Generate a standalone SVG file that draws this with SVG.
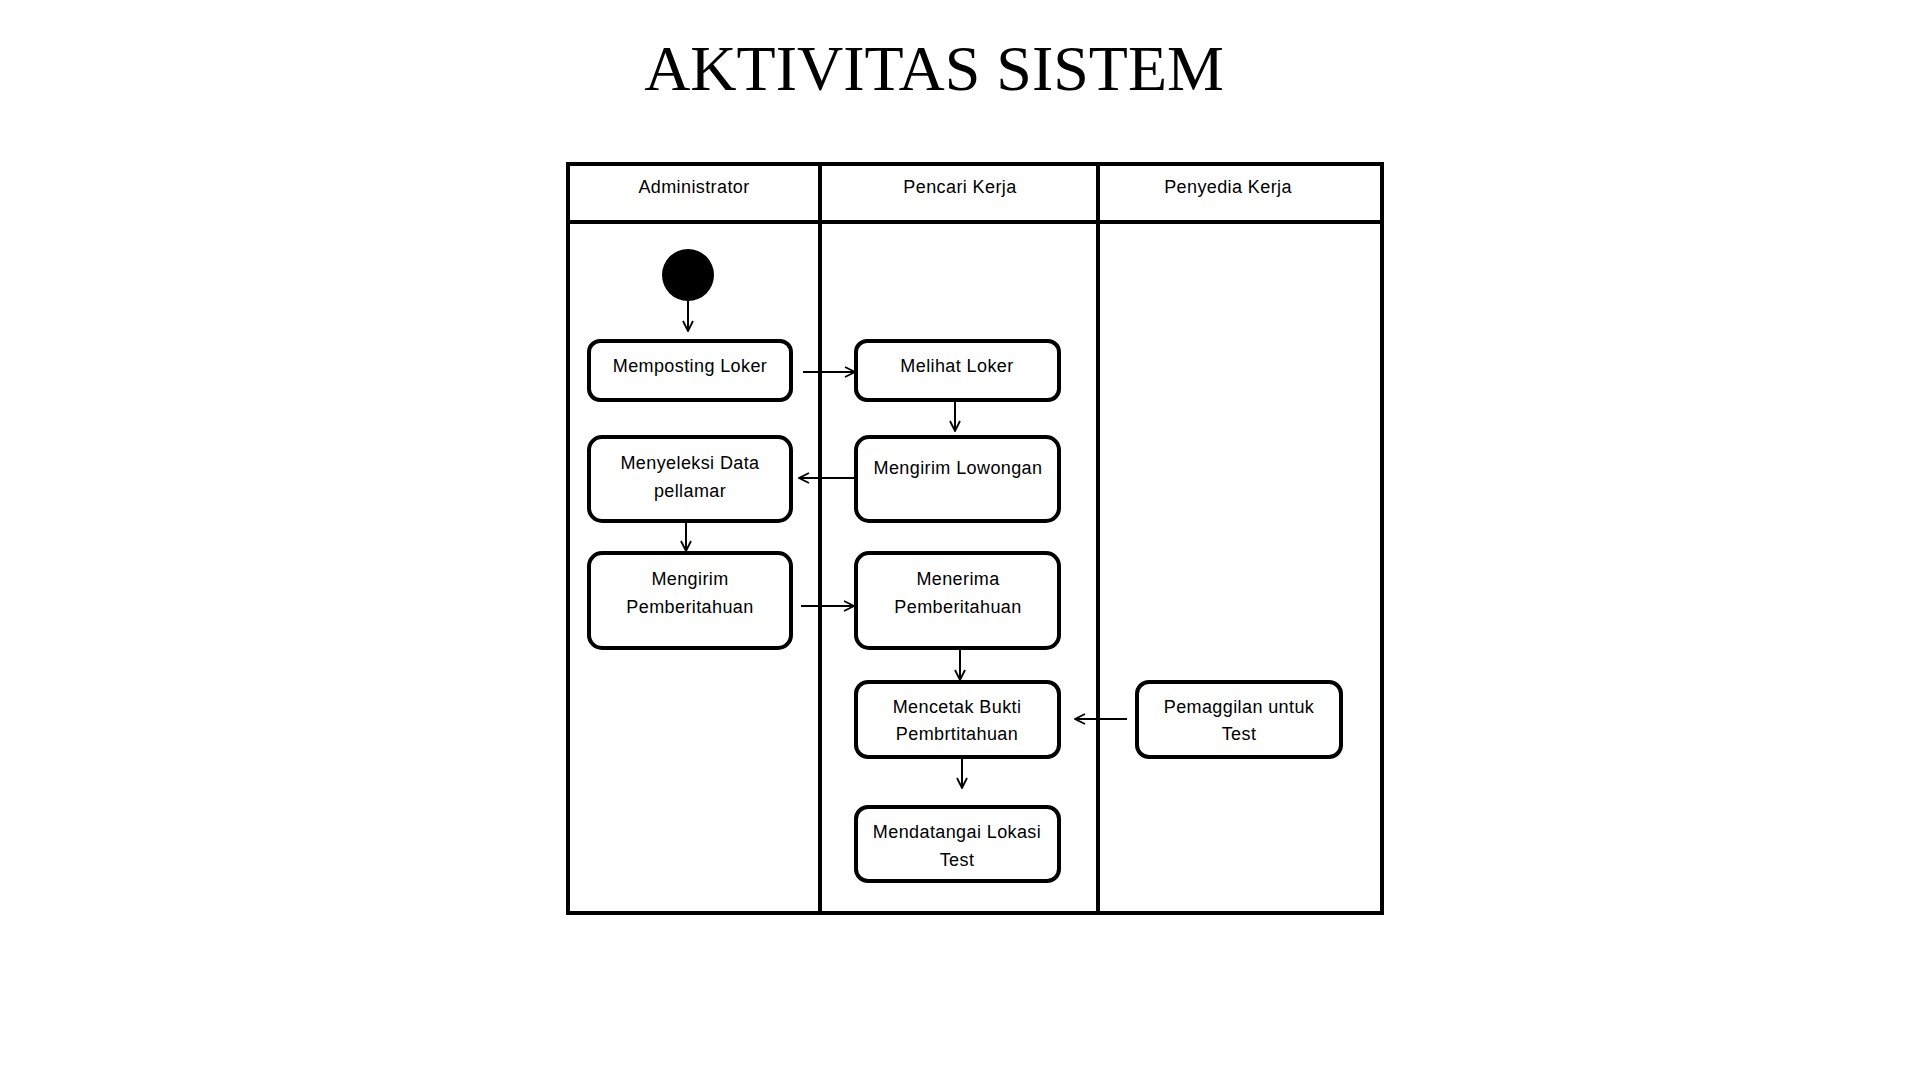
<svg xmlns="http://www.w3.org/2000/svg" width="1920" height="1080" viewBox="0 0 1920 1080">
<defs>
<marker id="arr" viewBox="0 0 12 12" refX="11" refY="6" markerWidth="12" markerHeight="12" markerUnits="userSpaceOnUse" orient="auto">
<path d="M1,1 L11,6 L1,11" fill="none" stroke="#000" stroke-width="1.8"/>
</marker>
</defs>
<style>
.title{font-family:"Liberation Serif","Times New Roman",serif;font-size:64px;fill:#000}
.lbl{font-family:"Liberation Sans",Arial,sans-serif;font-size:18px;fill:#000;letter-spacing:0.4px;text-anchor:middle}
.node{fill:#fff;stroke:#000;stroke-width:4}
.lane{fill:none;stroke:#000;stroke-width:4}
.conn{fill:none;stroke:#000;stroke-width:2;marker-end:url(#arr)}
</style>
<rect width="1920" height="1080" fill="#fff"/>
<text class="title" x="934" y="90" text-anchor="middle">AKTIVITAS SISTEM</text>
<g id="swimlanes">
<rect class="lane" x="568" y="164" width="814" height="749"/>
<line class="lane" x1="568" y1="222" x2="1382" y2="222"/>
<line class="lane" x1="820" y1="164" x2="820" y2="913"/>
<line class="lane" x1="1098" y1="164" x2="1098" y2="913"/>
<text class="lbl" x="694" y="193">Administrator</text>
<text class="lbl" x="960" y="193">Pencari Kerja</text>
<text class="lbl" x="1228" y="193">Penyedia Kerja</text>
</g>
<g id="start"><circle cx="688" cy="275" r="26" fill="#000"/></g>
<g id="memposting"><rect class="node" x="589" y="341" width="202" height="59" rx="11"/><text class="lbl" x="690" y="372">Memposting Loker</text></g>
<g id="melihat"><rect class="node" x="856" y="341" width="203" height="59" rx="11"/><text class="lbl" x="957" y="372">Melihat Loker</text></g>
<g id="menyeleksi"><rect class="node" x="589" y="437" width="202" height="84" rx="13"/><text class="lbl" x="690" y="469">Menyeleksi Data</text><text class="lbl" x="690" y="497">pellamar</text></g>
<g id="mengirim-lowongan"><rect class="node" x="856" y="437" width="203" height="84" rx="13"/><text class="lbl" x="958" y="474">Mengirim Lowongan</text></g>
<g id="mengirim-pemberitahuan"><rect class="node" x="589" y="553" width="202" height="95" rx="13"/><text class="lbl" x="690" y="585">Mengirim</text><text class="lbl" x="690" y="613">Pemberitahuan</text></g>
<g id="menerima"><rect class="node" x="856" y="553" width="203" height="95" rx="13"/><text class="lbl" x="958" y="585">Menerima</text><text class="lbl" x="958" y="613">Pemberitahuan</text></g>
<g id="mencetak"><rect class="node" x="856" y="682" width="203" height="75" rx="12"/><text class="lbl" x="957" y="713">Mencetak Bukti</text><text class="lbl" x="957" y="740">Pembrtitahuan</text></g>
<g id="pemaggilan"><rect class="node" x="1137" y="682" width="204" height="75" rx="12"/><text class="lbl" x="1239" y="713">Pemaggilan untuk</text><text class="lbl" x="1239" y="740">Test</text></g>
<g id="mendatangai"><rect class="node" x="856" y="807" width="203" height="74" rx="12"/><text class="lbl" x="957" y="838">Mendatangai Lokasi</text><text class="lbl" x="957" y="866">Test</text></g>
<g id="connectors">
<line class="conn" x1="688" y1="301" x2="688" y2="331"/>
<line class="conn" x1="803" y1="372" x2="855" y2="372"/>
<line class="conn" x1="955" y1="400" x2="955" y2="431"/>
<line class="conn" x1="856" y1="478" x2="799" y2="478"/>
<line class="conn" x1="686" y1="521" x2="686" y2="551"/>
<line class="conn" x1="801" y1="606" x2="854" y2="606"/>
<line class="conn" x1="960" y1="648" x2="960" y2="680"/>
<line class="conn" x1="1127" y1="719" x2="1075" y2="719"/>
<line class="conn" x1="962" y1="757" x2="962" y2="788"/>
</g>
</svg>
